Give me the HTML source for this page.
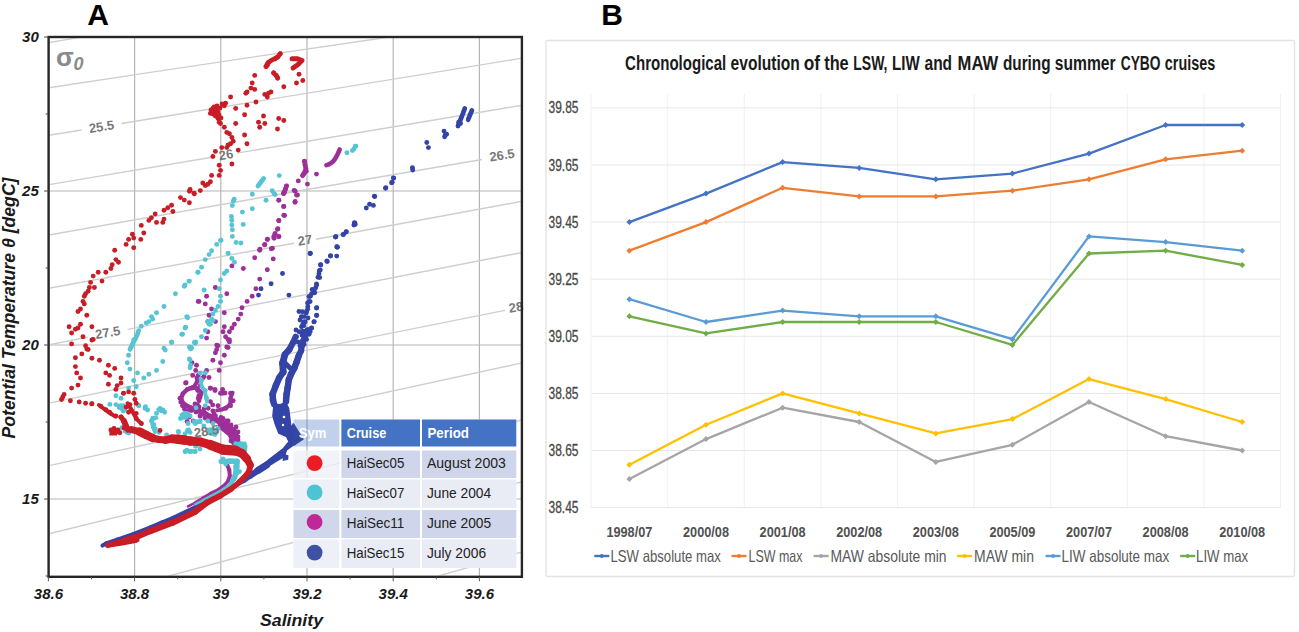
<!DOCTYPE html>
<html><head><meta charset="utf-8"><style>
html,body{margin:0;padding:0;background:#fff;width:1299px;height:632px;overflow:hidden}
svg{display:block}
text{font-family:"Liberation Sans",sans-serif}
</style></head><body>
<svg width="1299" height="632" viewBox="0 0 1299 632">
<rect width="1299" height="632" fill="#fff"/>
<defs><clipPath id="clipA"><rect x="49.8" y="38.2" width="471" height="537.4"/></clipPath></defs>
<line x1="134.6" y1="37.0" x2="134.6" y2="576.8" stroke="#b6b6b6" stroke-width="1.2"/>
<line x1="220.8" y1="37.0" x2="220.8" y2="576.8" stroke="#b6b6b6" stroke-width="1.2"/>
<line x1="307.0" y1="37.0" x2="307.0" y2="576.8" stroke="#b6b6b6" stroke-width="1.2"/>
<line x1="393.2" y1="37.0" x2="393.2" y2="576.8" stroke="#b6b6b6" stroke-width="1.2"/>
<line x1="479.4" y1="37.0" x2="479.4" y2="576.8" stroke="#b6b6b6" stroke-width="1.2"/>
<line x1="48.6" y1="191.0" x2="521.9" y2="191.0" stroke="#b6b6b6" stroke-width="1.2"/>
<line x1="48.6" y1="345.0" x2="521.9" y2="345.0" stroke="#b6b6b6" stroke-width="1.2"/>
<line x1="48.6" y1="499.0" x2="521.9" y2="499.0" stroke="#b6b6b6" stroke-width="1.2"/>
<g clip-path="url(#clipA)" stroke="#cecece" stroke-width="1.4" fill="none">
<path d="M48.6,42.6 Q285.2,2.6 521.9,-35.0"/>
<path d="M48.6,87.8 Q285.2,51.7 521.9,18.0"/>
<path d="M48.6,135.4 Q65.0,132.7 81.5,130.0"/>
<path d="M121.5,123.5 Q321.7,90.0 521.9,58.2"/>
<path d="M48.6,184.7 Q131.8,170.6 215.0,156.8"/>
<path d="M237.0,153.1 Q379.4,128.8 521.9,105.3"/>
<path d="M48.6,235.1 Q265.3,196.3 482.0,159.5"/>
<path d="M48.6,288.3 Q171.3,265.4 294.0,243.2"/>
<path d="M316.0,239.2 Q418.9,220.1 521.9,201.4"/>
<path d="M48.6,344.8 Q68.2,341.0 87.7,337.2"/>
<path d="M127.7,329.4 Q324.8,290.1 521.9,252.5"/>
<path d="M48.6,403.2 Q276.8,355.7 505.0,310.4"/>
<path d="M48.6,465.7 Q117.5,450.6 186.5,435.7"/>
<path d="M226.5,427.1 Q374.2,394.5 521.9,362.9"/>
<path d="M48.6,533.8 Q285.2,475.7 521.9,420.0"/>
<path d="M48.6,608.7 Q285.2,544.0 521.9,481.7"/>
<path d="M48.6,690.0 Q285.2,619.8 521.9,552.0"/>
</g>
<text x="56" y="66" font-family="Liberation Sans" font-weight="bold" font-size="26" fill="#8a8a8a">σ</text>
<text x="73.5" y="70" font-family="Liberation Sans" font-weight="bold" font-style="italic" font-size="18" fill="#8a8a8a">0</text>
<g clip-path="url(#clipA)">
<g fill="#3343a6"><circle cx="458.7" cy="122.3" r="2.45"/>
<circle cx="458.0" cy="126.0" r="2.45"/>
<circle cx="460.5" cy="123.5" r="2.45"/>
<circle cx="444.0" cy="131.1" r="2.45"/>
<circle cx="445.3" cy="135.0" r="2.45"/>
<circle cx="446.6" cy="134.2" r="2.45"/>
<circle cx="444.6" cy="136.7" r="2.45"/>
<circle cx="426.8" cy="142.5" r="2.45"/>
<circle cx="428.4" cy="147.6" r="2.45"/>
<circle cx="412.4" cy="167.8" r="2.45"/>
<circle cx="393.4" cy="178.0" r="2.45"/>
<circle cx="392.2" cy="182.3" r="2.45"/>
<circle cx="385.8" cy="187.6" r="2.45"/>
<circle cx="374.4" cy="196.2" r="2.45"/>
<circle cx="354.9" cy="223.1" r="2.45"/>
<circle cx="353.9" cy="225.0" r="2.45"/>
<circle cx="346.3" cy="231.6" r="2.45"/>
<circle cx="343.5" cy="234.5" r="2.45"/>
<circle cx="335.9" cy="236.8" r="2.45"/>
<circle cx="336.8" cy="246.8" r="2.45"/>
<circle cx="412.7" cy="170.0" r="2.45"/>
<circle cx="393.7" cy="178.1" r="2.45"/>
<circle cx="391.6" cy="182.7" r="2.45"/>
<circle cx="385.6" cy="188.2" r="2.45"/>
<circle cx="374.7" cy="196.6" r="2.45"/>
<circle cx="373.4" cy="205.4" r="2.45"/>
<circle cx="369.6" cy="204.2" r="2.45"/>
<circle cx="366.3" cy="208.0" r="2.45"/>
<circle cx="354.4" cy="222.7" r="2.45"/>
<circle cx="355.2" cy="224.4" r="2.45"/>
<circle cx="346.1" cy="232.0" r="2.45"/>
<circle cx="343.0" cy="234.6" r="2.45"/>
<circle cx="335.4" cy="237.1" r="2.45"/>
<circle cx="337.5" cy="247.2" r="2.45"/>
<circle cx="336.7" cy="256.1" r="2.45"/>
<circle cx="330.4" cy="256.1" r="2.45"/>
<circle cx="327.3" cy="261.6" r="2.45"/>
<circle cx="320.8" cy="264.9" r="2.45"/>
<circle cx="320.3" cy="270.0" r="2.45"/>
<circle cx="319.0" cy="273.8" r="2.45"/>
<circle cx="319.7" cy="277.6" r="2.45"/>
<circle cx="316.5" cy="283.9" r="2.45"/>
<circle cx="315.7" cy="287.7" r="2.45"/>
<circle cx="312.2" cy="289.5" r="2.45"/>
<circle cx="314.7" cy="292.8" r="2.45"/>
<circle cx="308.9" cy="296.6" r="2.45"/>
<circle cx="310.1" cy="301.6" r="2.45"/>
<circle cx="307.6" cy="302.9" r="2.45"/>
<circle cx="316.5" cy="308.0" r="2.45"/>
<circle cx="316.5" cy="315.6" r="2.45"/>
<circle cx="307.6" cy="309.2" r="2.45"/>
<circle cx="306.3" cy="313.0" r="2.45"/>
<circle cx="302.5" cy="311.8" r="2.45"/>
<circle cx="301.3" cy="316.8" r="2.45"/>
<circle cx="313.9" cy="321.9" r="2.45"/>
<circle cx="305.1" cy="321.9" r="2.45"/>
<circle cx="303.8" cy="325.7" r="2.45"/>
<circle cx="311.4" cy="328.2" r="2.45"/>
<circle cx="310.1" cy="253.5" r="2.45"/>
<circle cx="335.7" cy="236.8" r="2.45"/>
<circle cx="337.0" cy="247.0" r="2.45"/>
<circle cx="330.6" cy="255.8" r="2.45"/>
<circle cx="326.8" cy="260.9" r="2.45"/>
<circle cx="320.5" cy="264.7" r="2.45"/>
<circle cx="319.2" cy="271.0" r="2.45"/>
<circle cx="318.0" cy="277.3" r="2.45"/>
<circle cx="316.7" cy="284.9" r="2.45"/>
<circle cx="314.2" cy="290.0" r="2.45"/>
<circle cx="311.6" cy="293.8" r="2.45"/>
<circle cx="310.4" cy="296.3" r="2.45"/>
<circle cx="309.1" cy="301.4" r="2.45"/>
<circle cx="307.8" cy="306.5" r="2.45"/>
<circle cx="306.6" cy="311.5" r="2.45"/>
<circle cx="304.1" cy="316.6" r="2.45"/>
<circle cx="304.1" cy="321.6" r="2.45"/>
<circle cx="301.5" cy="326.7" r="2.45"/>
<circle cx="299.0" cy="331.8" r="2.45"/>
<circle cx="296.5" cy="336.8" r="2.45"/>
<circle cx="293.9" cy="341.9" r="2.45"/>
<circle cx="291.4" cy="345.7" r="2.45"/>
<circle cx="288.9" cy="349.5" r="2.45"/>
<circle cx="310.4" cy="253.3" r="2.45"/>
<circle cx="282.5" cy="273.5" r="2.45"/>
<circle cx="271.1" cy="283.7" r="2.45"/>
<circle cx="261.0" cy="288.7" r="2.45"/>
<circle cx="258.5" cy="295.1" r="2.45"/>
<circle cx="288.9" cy="295.1" r="2.45"/>
<circle cx="316.7" cy="307.7" r="2.45"/>
<circle cx="316.7" cy="315.3" r="2.45"/>
<circle cx="314.2" cy="321.6" r="2.45"/>
<circle cx="311.6" cy="328.0" r="2.45"/>
<circle cx="309.1" cy="334.3" r="2.45"/>
<circle cx="306.6" cy="339.4" r="2.45"/>
<circle cx="304.1" cy="344.4" r="2.45"/>
<circle cx="299.0" cy="311.5" r="2.45"/>
<circle cx="302.8" cy="324.2" r="2.45"/>
<circle cx="305.3" cy="331.8" r="2.45"/>
<circle cx="300.0" cy="320.0" r="2.45"/>
<circle cx="308.0" cy="318.0" r="2.45"/>
<circle cx="296.0" cy="330.0" r="2.45"/>
<circle cx="302.0" cy="335.0" r="2.45"/>
<circle cx="307.0" cy="330.0" r="2.45"/>
<circle cx="298.0" cy="342.0" r="2.45"/>
<circle cx="300.0" cy="346.0" r="2.45"/><polygon points="272.0,403.0 273.3,403.9 272.2,416.0 274.4,423.8 278.3,433.8 286.0,437.1 288.2,441.5 282.7,448.2 277.1,452.6 268.3,459.2 261.6,465.0 266.0,467.5 271.6,465.0 277.1,461.4 284.9,457.0 287.1,450.4 293.2,446.0 303.7,439.3 293.0,422.7 291.5,426.0 290.4,417.1 289.3,408.3 286.0,401.6 280.0,404.0"/>
<polygon points="283.5,454.0 288.5,455.2 288.2,459.8 282.5,461.0"/></g>
<g fill="none" stroke="#3343a6" stroke-linecap="round" stroke-linejoin="round"><polyline points="464.8,108.4 462.0,116.0 458.7,124.0" stroke-width="4.7"/>
<polyline points="471.9,110.4 470.0,115.0 468.1,119.7" stroke-width="4.7"/><line x1="295.5" y1="336.6" x2="293.2" y2="342.2" stroke-width="5.8"/>
<line x1="293.2" y1="342.2" x2="289.0" y2="349.9" stroke-width="6.2"/>
<line x1="289.0" y1="349.9" x2="285.0" y2="354.4" stroke-width="6.5"/>
<line x1="285.0" y1="354.4" x2="282.6" y2="363.2" stroke-width="6.8"/>
<line x1="282.6" y1="363.2" x2="283.2" y2="372.1" stroke-width="6.8"/>
<line x1="283.2" y1="372.1" x2="279.3" y2="377.6" stroke-width="6.5"/>
<line x1="279.3" y1="377.6" x2="275.9" y2="385.4" stroke-width="6.5"/>
<line x1="275.9" y1="385.4" x2="272.6" y2="394.2" stroke-width="6.5"/>
<line x1="272.6" y1="394.2" x2="273.0" y2="400.0" stroke-width="6.5"/>
<line x1="273.0" y1="400.0" x2="274.0" y2="404.0" stroke-width="6.5"/>
<line x1="308.2" y1="330.0" x2="304.8" y2="336.6" stroke-width="5.8"/>
<line x1="304.8" y1="336.6" x2="302.6" y2="342.2" stroke-width="6.0"/>
<line x1="302.6" y1="342.2" x2="301.0" y2="351.0" stroke-width="6.0"/>
<line x1="301.0" y1="351.0" x2="298.8" y2="355.5" stroke-width="6.2"/>
<line x1="298.8" y1="355.5" x2="296.6" y2="362.1" stroke-width="6.5"/>
<line x1="296.6" y1="362.1" x2="294.4" y2="367.7" stroke-width="6.5"/>
<line x1="294.4" y1="367.7" x2="291.0" y2="374.3" stroke-width="6.5"/>
<line x1="291.0" y1="374.3" x2="288.8" y2="379.8" stroke-width="6.5"/>
<line x1="288.8" y1="379.8" x2="287.7" y2="387.6" stroke-width="6.5"/>
<line x1="287.7" y1="387.6" x2="286.6" y2="394.2" stroke-width="6.5"/>
<line x1="286.6" y1="394.2" x2="286.0" y2="401.6" stroke-width="6.5"/>
<line x1="284.0" y1="362.0" x2="290.0" y2="368.0" stroke-width="5.0"/>
<line x1="266.6" y1="465.0" x2="258.0" y2="470.5" stroke-width="7.2"/>
<line x1="258.0" y1="470.5" x2="250.0" y2="476.0" stroke-width="6.0"/>
<line x1="250.0" y1="476.0" x2="244.0" y2="480.5" stroke-width="5.2"/>
<line x1="244.0" y1="480.5" x2="236.0" y2="485.5" stroke-width="4.0"/>
<line x1="236.0" y1="485.5" x2="228.0" y2="490.0" stroke-width="4.0"/>
<line x1="228.0" y1="490.0" x2="222.0" y2="492.5" stroke-width="4.0"/>
<line x1="222.0" y1="492.5" x2="215.0" y2="494.5" stroke-width="4.0"/>
<line x1="215.0" y1="494.5" x2="205.0" y2="500.5" stroke-width="4.0"/>
<line x1="205.0" y1="500.5" x2="194.7" y2="507.5" stroke-width="4.0"/>
<line x1="194.7" y1="507.5" x2="172.6" y2="518.0" stroke-width="4.0"/>
<line x1="172.6" y1="518.0" x2="161.5" y2="522.5" stroke-width="4.0"/>
<line x1="161.5" y1="522.5" x2="150.4" y2="527.4" stroke-width="4.0"/>
<line x1="150.4" y1="527.4" x2="133.8" y2="533.8" stroke-width="4.0"/>
<line x1="133.8" y1="533.8" x2="117.2" y2="539.6" stroke-width="4.0"/>
<line x1="117.2" y1="539.6" x2="106.0" y2="543.5" stroke-width="4.0"/>
<line x1="106.0" y1="543.5" x2="102.5" y2="545.5" stroke-width="4.1"/>
<line x1="302.0" y1="331.5" x2="310.0" y2="331.5" stroke-width="5.0"/></g>
<g fill="#fff"><circle cx="284" cy="417" r="1.3"/>
<circle cx="283" cy="425" r="1.2"/></g>
<g fill="#9d2f99"><circle cx="304.5" cy="161.3" r="2.45"/>
<circle cx="305.1" cy="165.1" r="2.45"/>
<circle cx="305.9" cy="168.9" r="2.45"/>
<circle cx="304.5" cy="172.7" r="2.45"/>
<circle cx="302.6" cy="175.6" r="2.45"/>
<circle cx="316.5" cy="174.1" r="2.45"/>
<circle cx="307.4" cy="184.1" r="2.45"/>
<circle cx="298.3" cy="180.9" r="2.45"/>
<circle cx="286.5" cy="186.0" r="2.45"/>
<circle cx="285.5" cy="188.9" r="2.45"/>
<circle cx="284.6" cy="191.7" r="2.45"/>
<circle cx="283.6" cy="193.6" r="2.45"/>
<circle cx="294.1" cy="190.4" r="2.45"/>
<circle cx="297.5" cy="195.0" r="2.45"/>
<circle cx="295.0" cy="202.2" r="2.45"/>
<circle cx="278.9" cy="200.3" r="2.45"/>
<circle cx="283.6" cy="206.4" r="2.45"/>
<circle cx="284.6" cy="215.5" r="2.45"/>
<circle cx="278.9" cy="220.8" r="2.45"/>
<circle cx="277.9" cy="228.8" r="2.45"/>
<circle cx="275.1" cy="233.5" r="2.45"/>
<circle cx="274.1" cy="238.3" r="2.45"/>
<circle cx="278.9" cy="236.4" r="2.45"/>
<circle cx="267.5" cy="239.2" r="2.45"/>
<circle cx="264.6" cy="244.9" r="2.45"/>
<circle cx="271.3" cy="248.7" r="2.45"/>
<circle cx="259.9" cy="249.3" r="2.45"/>
<circle cx="303.8" cy="173.8" r="2.45"/>
<circle cx="306.3" cy="171.3" r="2.45"/>
<circle cx="283.8" cy="192.5" r="2.45"/>
<circle cx="295.2" cy="191.3" r="2.45"/>
<circle cx="296.5" cy="195.1" r="2.45"/>
<circle cx="295.2" cy="201.4" r="2.45"/>
<circle cx="278.7" cy="200.1" r="2.45"/>
<circle cx="283.8" cy="206.5" r="2.45"/>
<circle cx="283.8" cy="215.3" r="2.45"/>
<circle cx="278.7" cy="220.4" r="2.45"/>
<circle cx="277.5" cy="229.2" r="2.45"/>
<circle cx="274.9" cy="234.3" r="2.45"/>
<circle cx="278.7" cy="236.8" r="2.45"/>
<circle cx="273.7" cy="236.8" r="2.45"/>
<circle cx="267.3" cy="239.4" r="2.45"/>
<circle cx="264.8" cy="244.4" r="2.45"/>
<circle cx="259.7" cy="250.3" r="2.45"/>
<circle cx="254.7" cy="257.8" r="2.45"/>
<circle cx="272.4" cy="248.2" r="2.45"/>
<circle cx="273.2" cy="258.9" r="2.45"/>
<circle cx="267.3" cy="269.7" r="2.45"/>
<circle cx="259.7" cy="279.1" r="2.45"/>
<circle cx="255.9" cy="288.7" r="2.45"/>
<circle cx="252.2" cy="296.3" r="2.45"/>
<circle cx="247.1" cy="301.4" r="2.45"/>
<circle cx="242.0" cy="307.7" r="2.45"/>
<circle cx="240.8" cy="314.1" r="2.45"/>
<circle cx="238.2" cy="319.1" r="2.45"/>
<circle cx="234.4" cy="324.2" r="2.45"/>
<circle cx="231.9" cy="328.0" r="2.45"/>
<circle cx="229.4" cy="331.8" r="2.45"/>
<circle cx="224.3" cy="326.7" r="2.45"/>
<circle cx="223.0" cy="331.8" r="2.45"/>
<circle cx="225.6" cy="336.8" r="2.45"/>
<circle cx="228.1" cy="339.4" r="2.45"/>
<circle cx="229.4" cy="341.9" r="2.45"/>
<circle cx="226.8" cy="347.0" r="2.45"/>
<circle cx="218.0" cy="345.7" r="2.45"/>
<circle cx="216.7" cy="349.5" r="2.45"/>
<circle cx="243.3" cy="268.5" r="2.45"/>
<circle cx="231.9" cy="265.9" r="2.45"/>
<circle cx="226.8" cy="293.8" r="2.45"/>
<circle cx="224.3" cy="312.8" r="2.45"/>
<circle cx="215.4" cy="321.6" r="2.45"/>
<circle cx="211.6" cy="309.0" r="2.45"/>
<circle cx="206.6" cy="296.3" r="2.45"/>
<circle cx="205.3" cy="303.9" r="2.45"/>
<circle cx="199.0" cy="301.4" r="2.45"/>
<circle cx="209.1" cy="315.3" r="2.45"/>
<circle cx="207.8" cy="321.6" r="2.45"/>
<circle cx="207.8" cy="331.8" r="2.45"/>
<circle cx="206.6" cy="338.1" r="2.45"/>
<circle cx="215.4" cy="287.5" r="2.45"/>
<circle cx="198.2" cy="301.4" r="2.45"/>
<circle cx="229.4" cy="340.0" r="2.45"/>
<circle cx="228.1" cy="347.6" r="2.45"/>
<circle cx="224.3" cy="355.2" r="2.45"/>
<circle cx="220.5" cy="362.8" r="2.45"/>
<circle cx="219.2" cy="370.4" r="2.45"/>
<circle cx="216.7" cy="345.1" r="2.45"/>
<circle cx="215.4" cy="352.7" r="2.45"/>
<circle cx="212.9" cy="360.3" r="2.45"/>
<circle cx="206.6" cy="370.4" r="2.45"/>
<circle cx="202.8" cy="378.0" r="2.45"/>
<circle cx="200.3" cy="385.6" r="2.45"/>
<circle cx="197.7" cy="390.6" r="2.45"/>
<circle cx="199.0" cy="395.5" r="2.45"/>
<circle cx="199.0" cy="400.8" r="2.45"/>
<circle cx="197.5" cy="405.0" r="2.45"/>
<circle cx="195.2" cy="408.4" r="2.45"/>
<circle cx="191.5" cy="410.5" r="2.45"/>
<circle cx="187.6" cy="410.9" r="2.45"/>
<circle cx="184.5" cy="409.0" r="2.45"/>
<circle cx="182.5" cy="405.8" r="2.45"/>
<circle cx="180.8" cy="402.0" r="2.45"/>
<circle cx="180.0" cy="398.2" r="2.45"/>
<circle cx="210.4" cy="388.1" r="2.45"/>
<circle cx="215.0" cy="390.5" r="2.45"/>
<circle cx="220.5" cy="393.2" r="2.45"/>
<circle cx="225.0" cy="393.0" r="2.45"/>
<circle cx="230.6" cy="393.2" r="2.45"/>
<circle cx="233.2" cy="400.8" r="2.45"/>
<circle cx="230.6" cy="405.8" r="2.45"/>
<circle cx="225.6" cy="408.4" r="2.45"/>
<circle cx="218.0" cy="405.8" r="2.45"/>
<circle cx="212.9" cy="410.9" r="2.45"/>
<circle cx="205.3" cy="413.4" r="2.45"/>
<circle cx="200.3" cy="415.9" r="2.45"/>
<circle cx="207.8" cy="418.5" r="2.45"/>
<circle cx="215.4" cy="415.9" r="2.45"/>
<circle cx="223.0" cy="418.5" r="2.45"/>
<circle cx="228.1" cy="421.0" r="2.45"/>
<circle cx="230.6" cy="426.1" r="2.45"/>
<circle cx="233.2" cy="431.1" r="2.45"/>
<circle cx="234.4" cy="436.2" r="2.45"/>
<circle cx="233.2" cy="441.3" r="2.45"/>
<circle cx="192.7" cy="375.4" r="2.45"/>
<circle cx="196.5" cy="365.3" r="2.45"/>
<circle cx="197.7" cy="378.0" r="2.45"/>
<circle cx="191.9" cy="362.8" r="2.45"/>
<circle cx="195.7" cy="370.4" r="2.45"/>
<circle cx="197.0" cy="378.0" r="2.45"/>
<circle cx="185.6" cy="383.0" r="2.45"/>
<circle cx="191.9" cy="388.1" r="2.45"/>
<circle cx="199.5" cy="398.2" r="2.45"/>
<circle cx="189.4" cy="415.9" r="2.45"/>
<circle cx="193.2" cy="421.0" r="2.45"/>
<circle cx="226.0" cy="428.0" r="2.45"/>
<circle cx="229.0" cy="433.0" r="2.45"/>
<circle cx="236.0" cy="432.0" r="2.45"/>
<circle cx="238.0" cy="437.0" r="2.45"/>
<circle cx="231.0" cy="437.0" r="2.45"/>
<circle cx="225.0" cy="424.0" r="2.45"/>
<circle cx="220.0" cy="425.0" r="2.45"/>
<circle cx="186.1" cy="382.8" r="2.45"/>
<circle cx="210.4" cy="388.3" r="2.45"/>
<circle cx="214.9" cy="389.4" r="2.45"/>
<circle cx="222.6" cy="389.4" r="2.45"/>
<circle cx="222.6" cy="393.3" r="2.45"/>
<circle cx="198.3" cy="398.3" r="2.45"/>
<circle cx="210.4" cy="401.6" r="2.45"/>
<circle cx="212.7" cy="404.9" r="2.45"/>
<circle cx="208.2" cy="408.2" r="2.45"/>
<circle cx="189.4" cy="417.1" r="2.45"/>
<circle cx="187.2" cy="421.5" r="2.45"/>
<circle cx="222.6" cy="419.3" r="2.45"/>
<circle cx="198.0" cy="376.0" r="2.45"/>
<circle cx="204.0" cy="376.5" r="2.45"/>
<circle cx="209.0" cy="377.5" r="2.45"/>
<circle cx="195.0" cy="404.0" r="2.45"/>
<circle cx="199.0" cy="407.0" r="2.45"/>
<circle cx="204.0" cy="409.0" r="2.45"/>
<circle cx="207.0" cy="415.5" r="2.45"/>
<circle cx="214.0" cy="414.0" r="2.45"/>
<circle cx="216.0" cy="420.0" r="2.45"/>
<circle cx="221.0" cy="417.5" r="2.45"/>
<circle cx="223.0" cy="425.0" r="2.45"/>
<circle cx="227.0" cy="421.0" r="2.45"/>
<circle cx="229.0" cy="427.5" r="2.45"/>
<circle cx="231.0" cy="425.0" r="2.45"/>
<circle cx="236.0" cy="427.0" r="2.45"/>
<circle cx="238.0" cy="432.0" r="2.45"/>
<circle cx="230.0" cy="435.0" r="2.45"/>
<circle cx="238.0" cy="440.0" r="2.45"/>
<circle cx="231.0" cy="441.0" r="2.45"/>
<circle cx="196.0" cy="412.0" r="2.45"/>
<circle cx="200.0" cy="416.0" r="2.45"/>
<circle cx="211.0" cy="421.0" r="2.45"/>
<circle cx="205.0" cy="418.0" r="2.45"/></g>
<g fill="none" stroke="#9d2f99" stroke-linecap="round" stroke-linejoin="round"><polyline points="339.7,149.5 337.8,153.7 335.9,157.5 334.0,160.4 332.1,162.3 329.2,164.2 326.4,165.1" stroke-width="4.6"/>
<polyline points="304.5,161.3 305.1,165.1 305.9,168.9 304.5,172.7 302.6,175.6" stroke-width="4.6"/>
<polyline points="286.5,186.0 285.5,188.9 284.6,191.7 283.6,193.6" stroke-width="4.6"/><line x1="198.3" y1="375.0" x2="197.1" y2="381.6" stroke-width="4.0"/>
<line x1="197.1" y1="381.6" x2="193.8" y2="387.2" stroke-width="4.1"/>
<line x1="193.8" y1="387.2" x2="187.2" y2="389.4" stroke-width="4.3"/>
<line x1="187.2" y1="389.4" x2="182.8" y2="393.8" stroke-width="4.4"/>
<line x1="182.8" y1="393.8" x2="181.1" y2="398.3" stroke-width="4.4"/>
<line x1="181.1" y1="398.3" x2="182.8" y2="402.7" stroke-width="4.4"/>
<line x1="182.8" y1="402.7" x2="187.2" y2="406.0" stroke-width="4.4"/>
<line x1="187.2" y1="406.0" x2="191.6" y2="408.2" stroke-width="4.7"/>
<line x1="187.2" y1="389.4" x2="192.7" y2="387.2" stroke-width="4.0"/>
<line x1="192.7" y1="387.2" x2="197.1" y2="388.3" stroke-width="4.0"/>
<line x1="197.1" y1="388.3" x2="201.6" y2="392.7" stroke-width="4.0"/>
<line x1="201.6" y1="392.7" x2="200.5" y2="397.1" stroke-width="3.9"/>
<line x1="191.6" y1="408.2" x2="202.7" y2="412.7" stroke-width="5.2"/>
<line x1="202.7" y1="412.7" x2="211.5" y2="417.1" stroke-width="5.5"/>
<line x1="211.5" y1="417.1" x2="219.3" y2="421.5" stroke-width="5.8"/>
<line x1="219.3" y1="421.5" x2="225.9" y2="424.8" stroke-width="6.0"/>
<line x1="225.9" y1="424.8" x2="232.6" y2="430.4" stroke-width="6.2"/>
<line x1="232.6" y1="430.4" x2="235.9" y2="437.0" stroke-width="6.8"/>
<line x1="235.9" y1="437.0" x2="234.8" y2="442.6" stroke-width="7.0"/>
<line x1="232.6" y1="392.7" x2="230.4" y2="398.3" stroke-width="4.0"/>
<line x1="230.4" y1="398.3" x2="230.4" y2="403.8" stroke-width="4.0"/>
<line x1="230.4" y1="403.8" x2="227.0" y2="407.1" stroke-width="4.0"/>
<line x1="227.0" y1="407.1" x2="222.6" y2="409.3" stroke-width="4.0"/>
<line x1="222.6" y1="409.3" x2="217.1" y2="410.4" stroke-width="4.0"/>
<line x1="227.5" y1="465.5" x2="229.3" y2="470.0" stroke-width="4.0"/>
<line x1="229.3" y1="470.0" x2="229.8" y2="476.0" stroke-width="4.0"/>
<line x1="229.8" y1="476.0" x2="228.0" y2="481.0" stroke-width="3.8"/>
<line x1="228.0" y1="481.0" x2="225.0" y2="484.5" stroke-width="3.4"/>
<line x1="225.0" y1="484.5" x2="218.7" y2="489.3" stroke-width="3.1"/>
<line x1="218.7" y1="489.3" x2="210.8" y2="493.2" stroke-width="3.0"/>
<line x1="210.8" y1="493.2" x2="202.9" y2="498.0" stroke-width="3.0"/>
<line x1="202.9" y1="498.0" x2="195.0" y2="502.8" stroke-width="2.9"/>
<line x1="195.0" y1="502.8" x2="188.0" y2="506.3" stroke-width="2.6"/>
<line x1="222.0" y1="428.0" x2="228.0" y2="433.0" stroke-width="4.8"/></g>
<g fill="#56c4d2"><circle cx="355.8" cy="146.1" r="2.45"/>
<circle cx="353.9" cy="149.0" r="2.45"/>
<circle cx="346.9" cy="152.8" r="2.45"/>
<circle cx="355.4" cy="146.3" r="2.45"/>
<circle cx="352.4" cy="150.6" r="2.45"/>
<circle cx="279.3" cy="175.6" r="2.45"/>
<circle cx="252.3" cy="194.2" r="2.45"/>
<circle cx="272.2" cy="190.8" r="2.45"/>
<circle cx="274.1" cy="193.6" r="2.45"/>
<circle cx="275.1" cy="194.6" r="2.45"/>
<circle cx="266.0" cy="200.3" r="2.45"/>
<circle cx="234.2" cy="199.3" r="2.45"/>
<circle cx="233.3" cy="201.2" r="2.45"/>
<circle cx="232.3" cy="205.6" r="2.45"/>
<circle cx="242.4" cy="212.1" r="2.45"/>
<circle cx="252.3" cy="208.8" r="2.45"/>
<circle cx="231.4" cy="216.4" r="2.45"/>
<circle cx="231.8" cy="220.2" r="2.45"/>
<circle cx="231.8" cy="225.0" r="2.45"/>
<circle cx="232.3" cy="229.7" r="2.45"/>
<circle cx="232.3" cy="236.4" r="2.45"/>
<circle cx="236.1" cy="242.5" r="2.45"/>
<circle cx="240.9" cy="243.0" r="2.45"/>
<circle cx="243.2" cy="224.4" r="2.45"/>
<circle cx="221.0" cy="240.2" r="2.45"/>
<circle cx="198.2" cy="272.3" r="2.45"/>
<circle cx="189.4" cy="281.1" r="2.45"/>
<circle cx="184.3" cy="286.2" r="2.45"/>
<circle cx="175.4" cy="293.8" r="2.45"/>
<circle cx="164.0" cy="306.5" r="2.45"/>
<circle cx="156.5" cy="312.8" r="2.45"/>
<circle cx="151.4" cy="316.6" r="2.45"/>
<circle cx="152.7" cy="319.1" r="2.45"/>
<circle cx="148.9" cy="321.6" r="2.45"/>
<circle cx="146.3" cy="322.9" r="2.45"/>
<circle cx="141.3" cy="326.2" r="2.45"/>
<circle cx="186.8" cy="316.6" r="2.45"/>
<circle cx="185.6" cy="327.3" r="2.45"/>
<circle cx="181.8" cy="334.3" r="2.45"/>
<circle cx="171.6" cy="341.9" r="2.45"/>
<circle cx="164.0" cy="348.2" r="2.45"/>
<circle cx="189.4" cy="347.0" r="2.45"/>
<circle cx="195.7" cy="341.9" r="2.45"/>
<circle cx="220.5" cy="240.6" r="2.45"/>
<circle cx="216.7" cy="244.4" r="2.45"/>
<circle cx="211.6" cy="250.8" r="2.45"/>
<circle cx="209.1" cy="254.6" r="2.45"/>
<circle cx="205.3" cy="259.6" r="2.45"/>
<circle cx="201.5" cy="267.2" r="2.45"/>
<circle cx="197.7" cy="272.3" r="2.45"/>
<circle cx="188.9" cy="281.1" r="2.45"/>
<circle cx="185.1" cy="284.9" r="2.45"/>
<circle cx="228.1" cy="253.3" r="2.45"/>
<circle cx="231.9" cy="258.4" r="2.45"/>
<circle cx="234.4" cy="262.2" r="2.45"/>
<circle cx="226.8" cy="271.0" r="2.45"/>
<circle cx="224.3" cy="273.5" r="2.45"/>
<circle cx="220.5" cy="279.9" r="2.45"/>
<circle cx="219.2" cy="288.7" r="2.45"/>
<circle cx="220.5" cy="296.3" r="2.45"/>
<circle cx="220.5" cy="301.4" r="2.45"/>
<circle cx="218.0" cy="306.5" r="2.45"/>
<circle cx="215.4" cy="310.3" r="2.45"/>
<circle cx="212.9" cy="314.1" r="2.45"/>
<circle cx="211.6" cy="319.1" r="2.45"/>
<circle cx="209.1" cy="324.2" r="2.45"/>
<circle cx="205.3" cy="330.5" r="2.45"/>
<circle cx="201.5" cy="336.8" r="2.45"/>
<circle cx="195.2" cy="343.2" r="2.45"/>
<circle cx="191.4" cy="348.2" r="2.45"/>
<circle cx="204.1" cy="290.0" r="2.45"/>
<circle cx="187.6" cy="317.8" r="2.45"/>
<circle cx="185.1" cy="328.0" r="2.45"/>
<circle cx="182.5" cy="334.3" r="2.45"/>
<circle cx="207.8" cy="321.6" r="2.45"/>
<circle cx="210.4" cy="324.2" r="2.45"/>
<circle cx="212.9" cy="320.4" r="2.45"/>
<circle cx="133.7" cy="340.0" r="2.45"/>
<circle cx="131.1" cy="347.6" r="2.45"/>
<circle cx="128.6" cy="355.2" r="2.45"/>
<circle cx="127.3" cy="362.8" r="2.45"/>
<circle cx="129.9" cy="369.1" r="2.45"/>
<circle cx="137.5" cy="372.9" r="2.45"/>
<circle cx="143.8" cy="378.0" r="2.45"/>
<circle cx="148.9" cy="374.2" r="2.45"/>
<circle cx="156.5" cy="370.4" r="2.45"/>
<circle cx="162.8" cy="361.5" r="2.45"/>
<circle cx="165.3" cy="350.1" r="2.45"/>
<circle cx="171.6" cy="342.5" r="2.45"/>
<circle cx="194.4" cy="342.5" r="2.45"/>
<circle cx="190.6" cy="348.9" r="2.45"/>
<circle cx="189.4" cy="359.0" r="2.45"/>
<circle cx="190.6" cy="365.3" r="2.45"/>
<circle cx="136.2" cy="386.8" r="2.45"/>
<circle cx="133.7" cy="380.5" r="2.45"/>
<circle cx="128.6" cy="388.1" r="2.45"/>
<circle cx="123.5" cy="393.2" r="2.45"/>
<circle cx="115.9" cy="395.7" r="2.45"/>
<circle cx="121.0" cy="398.2" r="2.45"/>
<circle cx="115.9" cy="404.6" r="2.45"/>
<circle cx="119.7" cy="407.1" r="2.45"/>
<circle cx="123.5" cy="405.8" r="2.45"/>
<circle cx="124.8" cy="409.6" r="2.45"/>
<circle cx="138.7" cy="405.8" r="2.45"/>
<circle cx="145.1" cy="408.4" r="2.45"/>
<circle cx="152.7" cy="418.5" r="2.45"/>
<circle cx="156.5" cy="413.4" r="2.45"/>
<circle cx="159.0" cy="409.6" r="2.45"/>
<circle cx="161.5" cy="410.9" r="2.45"/>
<circle cx="151.4" cy="421.0" r="2.45"/>
<circle cx="153.9" cy="424.8" r="2.45"/>
<circle cx="155.2" cy="428.6" r="2.45"/>
<circle cx="159.0" cy="432.4" r="2.45"/>
<circle cx="166.6" cy="434.9" r="2.45"/>
<circle cx="123.5" cy="427.3" r="2.45"/>
<circle cx="127.3" cy="432.4" r="2.45"/>
<circle cx="183.0" cy="415.9" r="2.45"/>
<circle cx="186.8" cy="413.4" r="2.45"/>
<circle cx="180.5" cy="418.5" r="2.45"/>
<circle cx="188.1" cy="423.5" r="2.45"/>
<circle cx="185.6" cy="451.4" r="2.45"/>
<circle cx="191.9" cy="451.4" r="2.45"/>
<circle cx="195.7" cy="446.3" r="2.45"/>
<circle cx="189.4" cy="443.8" r="2.45"/>
<circle cx="191.4" cy="347.6" r="2.45"/>
<circle cx="195.2" cy="342.5" r="2.45"/>
<circle cx="190.1" cy="360.3" r="2.45"/>
<circle cx="190.1" cy="367.8" r="2.45"/>
<circle cx="200.3" cy="372.9" r="2.45"/>
<circle cx="205.3" cy="372.9" r="2.45"/>
<circle cx="201.5" cy="380.5" r="2.45"/>
<circle cx="205.3" cy="390.6" r="2.45"/>
<circle cx="206.6" cy="398.2" r="2.45"/>
<circle cx="205.3" cy="405.8" r="2.45"/>
<circle cx="185.1" cy="413.4" r="2.45"/>
<circle cx="190.1" cy="415.9" r="2.45"/>
<circle cx="195.2" cy="423.5" r="2.45"/>
<circle cx="200.3" cy="421.0" r="2.45"/>
<circle cx="207.8" cy="421.0" r="2.45"/>
<circle cx="212.9" cy="423.5" r="2.45"/>
<circle cx="218.0" cy="428.6" r="2.45"/>
<circle cx="190.1" cy="432.4" r="2.45"/>
<circle cx="185.1" cy="433.7" r="2.45"/>
<circle cx="185.1" cy="451.4" r="2.45"/>
<circle cx="190.1" cy="451.4" r="2.45"/>
<circle cx="195.2" cy="451.4" r="2.45"/>
<circle cx="235.7" cy="443.8" r="2.45"/>
<circle cx="240.8" cy="443.8" r="2.45"/>
<circle cx="243.3" cy="446.3" r="2.45"/>
<circle cx="238.2" cy="451.4" r="2.45"/>
<circle cx="223.0" cy="459.0" r="2.45"/>
<circle cx="225.6" cy="464.1" r="2.45"/>
<circle cx="230.6" cy="461.5" r="2.45"/>
<circle cx="235.7" cy="466.6" r="2.45"/>
<circle cx="239.5" cy="471.6" r="2.45"/>
<circle cx="196.0" cy="407.7" r="2.45"/>
<circle cx="178.3" cy="431.5" r="2.45"/>
<circle cx="188.3" cy="430.4" r="2.45"/>
<circle cx="203.8" cy="426.0" r="2.45"/>
<circle cx="109.9" cy="404.4" r="2.45"/>
<circle cx="123.2" cy="411.0" r="2.45"/>
<circle cx="138.7" cy="405.5" r="2.45"/>
<circle cx="145.4" cy="406.6" r="2.45"/>
<circle cx="147.6" cy="410.0" r="2.45"/>
<circle cx="167.5" cy="437.7" r="2.45"/>
<circle cx="178.6" cy="432.1" r="2.45"/>
<circle cx="186.3" cy="451.0" r="2.45"/>
<circle cx="188.6" cy="430.0" r="2.45"/>
<circle cx="187.5" cy="430.7" r="2.45"/>
<circle cx="190.0" cy="451.6" r="2.45"/>
<circle cx="195.0" cy="451.6" r="2.45"/>
<circle cx="200.0" cy="449.0" r="2.45"/>
<circle cx="160.0" cy="408.5" r="2.45"/>
<circle cx="163.0" cy="410.0" r="2.45"/>
<circle cx="122.0" cy="427.7" r="2.45"/>
<circle cx="125.0" cy="431.0" r="2.45"/>
<circle cx="128.8" cy="433.0" r="2.45"/>
<circle cx="186.9" cy="450.2" r="2.45"/>
<circle cx="164.7" cy="412.2" r="2.45"/>
<circle cx="161.0" cy="410.0" r="2.45"/><polygon points="235.6,442.0 246.0,441.5 247.5,446.0 247.0,451.6 240.0,451.0 235.6,449.0"/>
<polygon points="179.4,414.0 183.0,411.5 189.4,413.0 188.0,419.3 181.0,419.3"/>
<polygon points="116.6,404.0 122.0,403.3 124.3,408.0 121.0,411.0 117.0,409.0"/>
<polygon points="156.4,408.5 163.0,407.8 165.3,410.5 160.0,412.2 157.0,411.5"/>
<polygon points="151.0,416.0 157.0,415.5 158.7,419.0 153.0,421.0"/>
<polygon points="191.6,419.3 200.0,419.5 202.7,423.5 195.0,424.8 192.0,423.0"/>
<polygon points="206.0,428.0 214.0,427.0 219.3,432.0 216.0,437.0 208.0,435.0"/>
<polygon points="180.8,415.0 186.0,414.4 187.5,419.0 182.0,420.0"/></g>
<g fill="none" stroke="#56c4d2" stroke-linecap="round" stroke-linejoin="round"><polyline points="263.7,178.4 261.0,182.0 258.0,186.0" stroke-width="4.7"/>
<polyline points="138.7,330.5 137.5,334.3 135.7,338.1 133.7,341.9 131.6,345.7 129.9,349.5" stroke-width="4.6"/><line x1="200.5" y1="378.3" x2="201.6" y2="386.1" stroke-width="3.8"/>
<line x1="201.6" y1="386.1" x2="204.9" y2="391.6" stroke-width="3.8"/>
<line x1="204.9" y1="391.6" x2="206.0" y2="397.1" stroke-width="3.8"/>
<line x1="206.0" y1="397.1" x2="207.1" y2="401.6" stroke-width="3.8"/>
<line x1="152.0" y1="422.0" x2="153.0" y2="427.0" stroke-width="4.0"/>
<line x1="153.0" y1="427.0" x2="155.0" y2="432.0" stroke-width="4.0"/>
<line x1="221.0" y1="461.5" x2="230.0" y2="461.0" stroke-width="5.0"/>
<line x1="230.0" y1="461.0" x2="237.0" y2="461.5" stroke-width="5.5"/>
<line x1="237.0" y1="461.5" x2="236.5" y2="467.0" stroke-width="5.8"/>
<line x1="236.5" y1="467.0" x2="236.0" y2="473.0" stroke-width="6.0"/>
<line x1="236.0" y1="473.0" x2="234.0" y2="478.5" stroke-width="5.5"/>
<line x1="234.0" y1="478.5" x2="230.5" y2="484.0" stroke-width="4.5"/>
<line x1="230.5" y1="484.0" x2="225.0" y2="488.5" stroke-width="3.5"/>
<line x1="225.0" y1="488.5" x2="218.7" y2="492.2" stroke-width="3.0"/>
<line x1="218.7" y1="492.2" x2="210.8" y2="496.3" stroke-width="3.0"/>
<line x1="210.8" y1="496.3" x2="203.0" y2="500.3" stroke-width="2.8"/>
<line x1="203.0" y1="500.3" x2="195.0" y2="504.3" stroke-width="2.5"/></g>
<g fill="#c91d26"><circle cx="280.0" cy="53.9" r="2.45"/>
<circle cx="277.5" cy="57.2" r="2.45"/>
<circle cx="275.0" cy="59.0" r="2.45"/>
<circle cx="268.6" cy="62.8" r="2.45"/>
<circle cx="267.3" cy="65.3" r="2.45"/>
<circle cx="266.0" cy="66.6" r="2.45"/>
<circle cx="273.7" cy="72.9" r="2.45"/>
<circle cx="276.2" cy="75.4" r="2.45"/>
<circle cx="277.5" cy="78.0" r="2.45"/>
<circle cx="299.0" cy="74.2" r="2.45"/>
<circle cx="302.8" cy="80.5" r="2.45"/>
<circle cx="296.5" cy="83.0" r="2.45"/>
<circle cx="254.7" cy="75.4" r="2.45"/>
<circle cx="283.8" cy="86.8" r="2.45"/>
<circle cx="252.2" cy="83.0" r="2.45"/>
<circle cx="250.9" cy="88.1" r="2.45"/>
<circle cx="254.7" cy="89.4" r="2.45"/>
<circle cx="247.1" cy="91.9" r="2.45"/>
<circle cx="245.8" cy="93.2" r="2.45"/>
<circle cx="264.8" cy="94.4" r="2.45"/>
<circle cx="267.3" cy="97.0" r="2.45"/>
<circle cx="271.0" cy="91.9" r="2.45"/>
<circle cx="268.6" cy="93.2" r="2.45"/>
<circle cx="230.6" cy="97.0" r="2.45"/>
<circle cx="256.0" cy="102.0" r="2.45"/>
<circle cx="247.0" cy="105.3" r="2.45"/>
<circle cx="225.6" cy="103.3" r="2.45"/>
<circle cx="224.3" cy="105.8" r="2.45"/>
<circle cx="212.9" cy="108.4" r="2.45"/>
<circle cx="210.4" cy="113.4" r="2.45"/>
<circle cx="215.4" cy="116.0" r="2.45"/>
<circle cx="218.0" cy="118.5" r="2.45"/>
<circle cx="219.2" cy="122.3" r="2.45"/>
<circle cx="220.5" cy="123.5" r="2.45"/>
<circle cx="235.7" cy="108.4" r="2.45"/>
<circle cx="244.6" cy="114.7" r="2.45"/>
<circle cx="263.5" cy="116.0" r="2.45"/>
<circle cx="258.5" cy="122.3" r="2.45"/>
<circle cx="264.8" cy="123.5" r="2.45"/>
<circle cx="259.7" cy="127.3" r="2.45"/>
<circle cx="278.7" cy="118.5" r="2.45"/>
<circle cx="283.8" cy="120.5" r="2.45"/>
<circle cx="277.5" cy="129.0" r="2.45"/>
<circle cx="235.7" cy="123.5" r="2.45"/>
<circle cx="224.3" cy="127.3" r="2.45"/>
<circle cx="226.8" cy="132.4" r="2.45"/>
<circle cx="229.4" cy="133.7" r="2.45"/>
<circle cx="231.9" cy="137.5" r="2.45"/>
<circle cx="233.2" cy="141.3" r="2.45"/>
<circle cx="230.6" cy="143.8" r="2.45"/>
<circle cx="228.1" cy="145.0" r="2.45"/>
<circle cx="226.8" cy="147.6" r="2.45"/>
<circle cx="244.6" cy="135.0" r="2.45"/>
<circle cx="247.0" cy="143.8" r="2.45"/>
<circle cx="238.2" cy="150.1" r="2.45"/>
<circle cx="215.4" cy="151.4" r="2.45"/>
<circle cx="212.9" cy="156.5" r="2.45"/>
<circle cx="221.8" cy="147.6" r="2.45"/>
<circle cx="231.9" cy="164.0" r="2.45"/>
<circle cx="219.2" cy="165.3" r="2.45"/>
<circle cx="220.5" cy="170.4" r="2.45"/>
<circle cx="219.2" cy="175.4" r="2.45"/>
<circle cx="211.6" cy="175.4" r="2.45"/>
<circle cx="210.4" cy="181.8" r="2.45"/>
<circle cx="207.8" cy="184.3" r="2.45"/>
<circle cx="205.3" cy="185.6" r="2.45"/>
<circle cx="202.8" cy="183.0" r="2.45"/>
<circle cx="200.3" cy="190.6" r="2.45"/>
<circle cx="193.9" cy="193.2" r="2.45"/>
<circle cx="190.1" cy="189.4" r="2.45"/>
<circle cx="214.0" cy="107.0" r="2.45"/>
<circle cx="216.0" cy="110.0" r="2.45"/>
<circle cx="218.0" cy="112.0" r="2.45"/>
<circle cx="213.0" cy="111.0" r="2.45"/>
<circle cx="217.0" cy="106.0" r="2.45"/>
<circle cx="220.0" cy="108.0" r="2.45"/>
<circle cx="222.0" cy="104.0" r="2.45"/>
<circle cx="215.0" cy="113.0" r="2.45"/>
<circle cx="219.0" cy="115.0" r="2.45"/>
<circle cx="221.0" cy="118.0" r="2.45"/>
<circle cx="211.0" cy="110.0" r="2.45"/>
<circle cx="213.0" cy="114.0" r="2.45"/>
<circle cx="189.4" cy="191.3" r="2.45"/>
<circle cx="194.4" cy="193.8" r="2.45"/>
<circle cx="180.5" cy="197.6" r="2.45"/>
<circle cx="184.3" cy="200.1" r="2.45"/>
<circle cx="189.4" cy="202.7" r="2.45"/>
<circle cx="171.6" cy="205.2" r="2.45"/>
<circle cx="167.8" cy="207.7" r="2.45"/>
<circle cx="164.0" cy="210.3" r="2.45"/>
<circle cx="172.9" cy="211.5" r="2.45"/>
<circle cx="155.2" cy="214.0" r="2.45"/>
<circle cx="151.4" cy="217.8" r="2.45"/>
<circle cx="148.9" cy="220.4" r="2.45"/>
<circle cx="156.5" cy="222.4" r="2.45"/>
<circle cx="164.0" cy="219.1" r="2.45"/>
<circle cx="162.8" cy="222.4" r="2.45"/>
<circle cx="141.3" cy="225.4" r="2.45"/>
<circle cx="143.8" cy="233.0" r="2.45"/>
<circle cx="140.8" cy="239.4" r="2.45"/>
<circle cx="132.4" cy="234.3" r="2.45"/>
<circle cx="133.7" cy="238.1" r="2.45"/>
<circle cx="128.6" cy="239.4" r="2.45"/>
<circle cx="126.1" cy="244.4" r="2.45"/>
<circle cx="133.7" cy="247.7" r="2.45"/>
<circle cx="114.7" cy="250.3" r="2.45"/>
<circle cx="115.9" cy="259.6" r="2.45"/>
<circle cx="118.5" cy="262.2" r="2.45"/>
<circle cx="112.2" cy="264.7" r="2.45"/>
<circle cx="110.9" cy="268.5" r="2.45"/>
<circle cx="105.8" cy="272.3" r="2.45"/>
<circle cx="98.2" cy="272.3" r="2.45"/>
<circle cx="93.2" cy="276.1" r="2.45"/>
<circle cx="102.0" cy="281.1" r="2.45"/>
<circle cx="90.6" cy="282.4" r="2.45"/>
<circle cx="89.4" cy="287.5" r="2.45"/>
<circle cx="94.4" cy="287.5" r="2.45"/>
<circle cx="85.6" cy="293.8" r="2.45"/>
<circle cx="84.3" cy="296.3" r="2.45"/>
<circle cx="88.1" cy="291.3" r="2.45"/>
<circle cx="83.0" cy="301.4" r="2.45"/>
<circle cx="84.3" cy="303.9" r="2.45"/>
<circle cx="80.5" cy="309.0" r="2.45"/>
<circle cx="78.0" cy="311.5" r="2.45"/>
<circle cx="86.8" cy="315.3" r="2.45"/>
<circle cx="80.5" cy="324.2" r="2.45"/>
<circle cx="78.0" cy="328.0" r="2.45"/>
<circle cx="75.4" cy="329.2" r="2.45"/>
<circle cx="69.1" cy="326.7" r="2.45"/>
<circle cx="71.6" cy="333.0" r="2.45"/>
<circle cx="91.9" cy="326.7" r="2.45"/>
<circle cx="93.2" cy="339.4" r="2.45"/>
<circle cx="83.0" cy="336.8" r="2.45"/>
<circle cx="71.6" cy="343.9" r="2.45"/>
<circle cx="85.6" cy="345.7" r="2.45"/>
<circle cx="88.1" cy="349.5" r="2.45"/>
<circle cx="86.8" cy="348.9" r="2.45"/>
<circle cx="91.9" cy="340.0" r="2.45"/>
<circle cx="75.4" cy="357.7" r="2.45"/>
<circle cx="81.8" cy="353.9" r="2.45"/>
<circle cx="91.9" cy="358.2" r="2.45"/>
<circle cx="99.5" cy="360.3" r="2.45"/>
<circle cx="75.4" cy="366.6" r="2.45"/>
<circle cx="76.7" cy="372.9" r="2.45"/>
<circle cx="80.5" cy="378.0" r="2.45"/>
<circle cx="78.0" cy="385.1" r="2.45"/>
<circle cx="71.6" cy="388.1" r="2.45"/>
<circle cx="64.1" cy="394.4" r="2.45"/>
<circle cx="61.5" cy="399.5" r="2.45"/>
<circle cx="62.8" cy="397.0" r="2.45"/>
<circle cx="70.4" cy="400.8" r="2.45"/>
<circle cx="79.2" cy="402.0" r="2.45"/>
<circle cx="85.6" cy="403.3" r="2.45"/>
<circle cx="91.9" cy="403.8" r="2.45"/>
<circle cx="100.8" cy="406.3" r="2.45"/>
<circle cx="105.8" cy="409.6" r="2.45"/>
<circle cx="109.6" cy="412.2" r="2.45"/>
<circle cx="115.9" cy="415.9" r="2.45"/>
<circle cx="121.0" cy="417.2" r="2.45"/>
<circle cx="123.5" cy="421.0" r="2.45"/>
<circle cx="108.4" cy="365.3" r="2.45"/>
<circle cx="114.7" cy="368.4" r="2.45"/>
<circle cx="105.8" cy="372.9" r="2.45"/>
<circle cx="109.6" cy="375.4" r="2.45"/>
<circle cx="108.4" cy="384.3" r="2.45"/>
<circle cx="115.9" cy="389.4" r="2.45"/>
<circle cx="121.0" cy="378.0" r="2.45"/>
<circle cx="121.0" cy="383.0" r="2.45"/>
<circle cx="117.2" cy="385.6" r="2.45"/>
<circle cx="123.5" cy="393.2" r="2.45"/>
<circle cx="128.6" cy="391.9" r="2.45"/>
<circle cx="133.7" cy="393.2" r="2.45"/>
<circle cx="134.9" cy="399.5" r="2.45"/>
<circle cx="136.2" cy="403.3" r="2.45"/>
<circle cx="129.9" cy="404.6" r="2.45"/>
<circle cx="126.1" cy="407.1" r="2.45"/>
<circle cx="131.1" cy="409.6" r="2.45"/>
<circle cx="128.6" cy="412.2" r="2.45"/>
<circle cx="136.2" cy="413.4" r="2.45"/>
<circle cx="136.2" cy="418.5" r="2.45"/>
<circle cx="141.3" cy="423.5" r="2.45"/>
<circle cx="160.0" cy="430.4" r="2.45"/>
<circle cx="110.9" cy="429.9" r="2.45"/>
<circle cx="113.0" cy="431.0" r="2.45"/>
<circle cx="116.0" cy="432.4" r="2.45"/>
<circle cx="114.0" cy="428.5" r="2.45"/>
<circle cx="118.0" cy="430.0" r="2.45"/>
<circle cx="91.7" cy="403.9" r="2.45"/>
<circle cx="119.9" cy="432.7" r="2.45"/><polygon points="106.0,543.0 117.0,540.0 133.8,534.3 139.5,538.5 139.5,541.0 137.0,542.8 122.7,545.6 108.0,547.8 105.0,546.0"/>
<polygon points="109.4,428.0 116.6,427.7 117.0,435.4 109.4,435.4"/></g>
<g fill="none" stroke="#c91d26" stroke-linecap="round" stroke-linejoin="round"><polyline points="266.0,66.6 268.0,62.5 272.0,60.0 277.5,57.2 280.5,53.5" stroke-width="4.7"/>
<polyline points="292.0,58.8 297.0,58.6 302.0,60.6 298.0,64.5 293.0,68.0" stroke-width="4.9"/>
<polyline points="273.5,72.8 276.5,75.8 277.8,78.2" stroke-width="4.7"/><line x1="124.5" y1="427.7" x2="131.6" y2="429.6" stroke-width="5.5"/>
<line x1="131.6" y1="429.6" x2="139.6" y2="431.6" stroke-width="7.0"/>
<line x1="139.6" y1="431.6" x2="146.3" y2="435.0" stroke-width="8.5"/>
<line x1="146.3" y1="435.0" x2="152.7" y2="438.0" stroke-width="8.2"/>
<line x1="152.7" y1="438.0" x2="159.0" y2="439.4" stroke-width="7.2"/>
<line x1="159.0" y1="439.4" x2="166.0" y2="440.0" stroke-width="7.0"/>
<line x1="166.0" y1="440.0" x2="172.0" y2="438.8" stroke-width="7.8"/>
<line x1="172.0" y1="438.8" x2="178.0" y2="439.3" stroke-width="9.0"/>
<line x1="178.0" y1="439.3" x2="184.3" y2="440.0" stroke-width="9.5"/>
<line x1="184.3" y1="440.0" x2="190.6" y2="441.0" stroke-width="9.2"/>
<line x1="190.6" y1="441.0" x2="200.0" y2="441.8" stroke-width="8.8"/>
<line x1="200.0" y1="441.8" x2="210.3" y2="444.8" stroke-width="8.8"/>
<line x1="210.3" y1="444.8" x2="223.0" y2="449.7" stroke-width="10.0"/>
<line x1="223.0" y1="449.7" x2="235.6" y2="450.6" stroke-width="10.2"/>
<line x1="235.6" y1="450.6" x2="242.0" y2="453.4" stroke-width="9.2"/>
<line x1="242.0" y1="453.4" x2="247.0" y2="459.0" stroke-width="8.5"/>
<line x1="247.0" y1="459.0" x2="250.3" y2="465.0" stroke-width="7.2"/>
<line x1="250.3" y1="465.0" x2="249.3" y2="471.0" stroke-width="6.0"/>
<line x1="249.3" y1="471.0" x2="245.2" y2="476.2" stroke-width="5.5"/>
<line x1="245.2" y1="476.2" x2="239.4" y2="482.0" stroke-width="5.5"/>
<line x1="239.4" y1="482.0" x2="231.0" y2="489.0" stroke-width="5.5"/>
<line x1="231.0" y1="489.0" x2="220.0" y2="495.9" stroke-width="5.8"/>
<line x1="220.0" y1="495.9" x2="207.0" y2="502.5" stroke-width="6.0"/>
<line x1="207.0" y1="502.5" x2="194.7" y2="512.0" stroke-width="6.2"/>
<line x1="194.7" y1="512.0" x2="172.6" y2="522.7" stroke-width="6.2"/>
<line x1="172.6" y1="522.7" x2="150.4" y2="531.0" stroke-width="6.2"/>
<line x1="150.4" y1="531.0" x2="137.5" y2="536.5" stroke-width="6.2"/>
<line x1="137.5" y1="536.5" x2="122.0" y2="541.8" stroke-width="5.8"/>
<line x1="122.0" y1="541.8" x2="107.5" y2="545.4" stroke-width="5.0"/>
<line x1="121.0" y1="417.0" x2="124.0" y2="421.0" stroke-width="5.2"/>
<line x1="124.0" y1="421.0" x2="126.0" y2="426.0" stroke-width="6.0"/>
<line x1="126.0" y1="426.0" x2="128.0" y2="430.0" stroke-width="5.5"/>
<line x1="127.6" y1="403.3" x2="132.1" y2="411.0" stroke-width="4.0"/>
<line x1="132.1" y1="411.0" x2="136.5" y2="418.8" stroke-width="4.0"/>
<line x1="136.5" y1="418.8" x2="141.5" y2="423.8" stroke-width="4.0"/>
<line x1="98.9" y1="405.0" x2="105.0" y2="409.5" stroke-width="4.0"/>
<line x1="105.0" y1="409.5" x2="111.0" y2="413.8" stroke-width="4.0"/>
<line x1="111.0" y1="413.8" x2="115.5" y2="416.6" stroke-width="4.0"/></g>
</g>
<text x="101.5" y="131.1" text-anchor="middle" font-family="Liberation Sans" font-weight="bold" font-size="13" fill="#787878" transform="rotate(-9 101.5 126.5)">25.5</text>
<text x="226.0" y="159.1" text-anchor="middle" font-family="Liberation Sans" font-weight="bold" font-size="13" fill="#787878" transform="rotate(-9 226.0 154.5)">26</text>
<text x="502.0" y="159.6" text-anchor="middle" font-family="Liberation Sans" font-weight="bold" font-size="13" fill="#787878" transform="rotate(-9 502.0 155.0)">26.5</text>
<text x="305.0" y="244.6" text-anchor="middle" font-family="Liberation Sans" font-weight="bold" font-size="13" fill="#787878" transform="rotate(-9 305.0 240.0)">27</text>
<text x="107.7" y="337.0" text-anchor="middle" font-family="Liberation Sans" font-weight="bold" font-size="13" fill="#787878" transform="rotate(-9 107.7 332.4)">27.5</text>
<text x="516.0" y="311.6" text-anchor="middle" font-family="Liberation Sans" font-weight="bold" font-size="13" fill="#787878" transform="rotate(-9 516.0 307.0)">28</text>
<text x="206.5" y="435.6" text-anchor="middle" font-family="Liberation Sans" font-weight="bold" font-size="13" fill="#787878" transform="rotate(-9 206.5 431.0)">28.5</text>
<rect x="339.3" y="419.5" width="177.0" height="148.5" fill="#fff"/>
<rect x="293.5" y="478.0" width="45.8" height="90.0" fill="#fff"/>
<rect x="293.5" y="419.5" width="45.8" height="27.0" fill="#4472c4" fill-opacity="0.33"/>
<rect x="341.4" y="419.5" width="78.6" height="27.0" fill="#4472c4"/>
<rect x="422.0" y="419.5" width="94.3" height="27.0" fill="#4472c4"/>
<rect x="293.5" y="450.5" width="45.8" height="27.5" fill="#edf0f7" fill-opacity="0.8"/>
<rect x="341.4" y="450.5" width="78.6" height="27.5" fill="#cfd5ea"/>
<rect x="422.0" y="450.5" width="94.3" height="27.5" fill="#cfd5ea"/>
<rect x="293.5" y="479.5" width="45.8" height="28.5" fill="#eef0f7" fill-opacity="1"/>
<rect x="341.4" y="479.5" width="78.6" height="28.5" fill="#e9ebf5"/>
<rect x="422.0" y="479.5" width="94.3" height="28.5" fill="#e9ebf5"/>
<rect x="293.5" y="510.0" width="45.8" height="28.0" fill="#d1d7eb" fill-opacity="1"/>
<rect x="341.4" y="510.0" width="78.6" height="28.0" fill="#cfd5ea"/>
<rect x="422.0" y="510.0" width="94.3" height="28.0" fill="#cfd5ea"/>
<rect x="293.5" y="539.5" width="45.8" height="28.5" fill="#eef0f7" fill-opacity="1"/>
<rect x="341.4" y="539.5" width="78.6" height="28.5" fill="#e9ebf5"/>
<rect x="422.0" y="539.5" width="94.3" height="28.5" fill="#e9ebf5"/>
<polygon fill="#3547a0" points="293.5,422.7 303.7,439.3 293.5,446.2"/>
<text x="298.8" y="437.7" font-family="Liberation Sans" font-weight="bold" font-size="14" fill="#fff" textLength="27.5" lengthAdjust="spacingAndGlyphs">Sym</text>
<text x="346.7" y="437.7" font-family="Liberation Sans" font-weight="bold" font-size="14" fill="#fff" textLength="39.6" lengthAdjust="spacingAndGlyphs">Cruise</text>
<text x="427.5" y="437.7" font-family="Liberation Sans" font-weight="bold" font-size="14" fill="#fff" textLength="41.4" lengthAdjust="spacingAndGlyphs">Period</text>
<circle cx="314.6" cy="463.2" r="7.9" fill="#ed1c24"/>
<text x="346.7" y="467.9" font-family="Liberation Sans" font-size="14" fill="#222" textLength="57.6" lengthAdjust="spacingAndGlyphs">HaiSec05</text>
<text x="426.9" y="467.9" font-family="Liberation Sans" font-size="14" fill="#222" textLength="79" lengthAdjust="spacingAndGlyphs">August 2003</text>
<circle cx="314.6" cy="492.4" r="7.9" fill="#4cc4d4"/>
<text x="346.7" y="497.6" font-family="Liberation Sans" font-size="14" fill="#222" textLength="57.6" lengthAdjust="spacingAndGlyphs">HaiSec07</text>
<text x="426.9" y="497.6" font-family="Liberation Sans" font-size="14" fill="#222" textLength="64.3" lengthAdjust="spacingAndGlyphs">June 2004</text>
<circle cx="314.6" cy="522.0" r="7.9" fill="#bf2898"/>
<text x="346.7" y="527.6" font-family="Liberation Sans" font-size="14" fill="#222" textLength="57.6" lengthAdjust="spacingAndGlyphs">HaiSec11</text>
<text x="426.9" y="527.6" font-family="Liberation Sans" font-size="14" fill="#222" textLength="64.3" lengthAdjust="spacingAndGlyphs">June 2005</text>
<circle cx="314.6" cy="552.6" r="7.9" fill="#3f51a5"/>
<text x="346.7" y="557.8" font-family="Liberation Sans" font-size="14" fill="#222" textLength="57.6" lengthAdjust="spacingAndGlyphs">HaiSec15</text>
<text x="426.9" y="557.8" font-family="Liberation Sans" font-size="14" fill="#222" textLength="59.2" lengthAdjust="spacingAndGlyphs">July 2006</text>
<rect x="48.6" y="37.0" width="473.3" height="539.8" fill="none" stroke="#262626" stroke-width="2.4"/>
<line x1="44.1" y1="37.0" x2="48.6" y2="37.0" stroke="#444" stroke-width="1"/>
<line x1="45.6" y1="114.0" x2="48.6" y2="114.0" stroke="#444" stroke-width="1"/>
<line x1="44.1" y1="191.0" x2="48.6" y2="191.0" stroke="#444" stroke-width="1"/>
<line x1="45.6" y1="268.0" x2="48.6" y2="268.0" stroke="#444" stroke-width="1"/>
<line x1="44.1" y1="345.0" x2="48.6" y2="345.0" stroke="#444" stroke-width="1"/>
<line x1="45.6" y1="422.0" x2="48.6" y2="422.0" stroke="#444" stroke-width="1"/>
<line x1="44.1" y1="499.0" x2="48.6" y2="499.0" stroke="#444" stroke-width="1"/>
<line x1="45.6" y1="576.0" x2="48.6" y2="576.0" stroke="#444" stroke-width="1"/>
<text x="38.8" y="42.4" text-anchor="end" font-family="Liberation Sans" font-weight="bold" font-style="italic" font-size="15" fill="#1a1a1a">30</text>
<text x="38.8" y="196.4" text-anchor="end" font-family="Liberation Sans" font-weight="bold" font-style="italic" font-size="15" fill="#1a1a1a">25</text>
<text x="38.8" y="350.4" text-anchor="end" font-family="Liberation Sans" font-weight="bold" font-style="italic" font-size="15" fill="#1a1a1a">20</text>
<text x="38.8" y="504.4" text-anchor="end" font-family="Liberation Sans" font-weight="bold" font-style="italic" font-size="15" fill="#1a1a1a">15</text>
<line x1="48.4" y1="576.8" x2="48.4" y2="581.3" stroke="#555" stroke-width="1"/>
<line x1="91.5" y1="576.8" x2="91.5" y2="579.3" stroke="#555" stroke-width="1"/>
<line x1="134.6" y1="576.8" x2="134.6" y2="581.3" stroke="#555" stroke-width="1"/>
<line x1="177.7" y1="576.8" x2="177.7" y2="579.3" stroke="#555" stroke-width="1"/>
<line x1="220.8" y1="576.8" x2="220.8" y2="581.3" stroke="#555" stroke-width="1"/>
<line x1="263.9" y1="576.8" x2="263.9" y2="579.3" stroke="#555" stroke-width="1"/>
<line x1="307.0" y1="576.8" x2="307.0" y2="581.3" stroke="#555" stroke-width="1"/>
<line x1="350.1" y1="576.8" x2="350.1" y2="579.3" stroke="#555" stroke-width="1"/>
<line x1="393.2" y1="576.8" x2="393.2" y2="581.3" stroke="#555" stroke-width="1"/>
<line x1="436.3" y1="576.8" x2="436.3" y2="579.3" stroke="#555" stroke-width="1"/>
<line x1="479.4" y1="576.8" x2="479.4" y2="581.3" stroke="#555" stroke-width="1"/>
<text x="48.4" y="599.3" text-anchor="middle" font-family="Liberation Sans" font-weight="bold" font-style="italic" font-size="15" fill="#1a1a1a">38.6</text>
<text x="134.6" y="599.3" text-anchor="middle" font-family="Liberation Sans" font-weight="bold" font-style="italic" font-size="15" fill="#1a1a1a">38.8</text>
<text x="220.8" y="599.3" text-anchor="middle" font-family="Liberation Sans" font-weight="bold" font-style="italic" font-size="15" fill="#1a1a1a">39</text>
<text x="307.0" y="599.3" text-anchor="middle" font-family="Liberation Sans" font-weight="bold" font-style="italic" font-size="15" fill="#1a1a1a">39.2</text>
<text x="393.2" y="599.3" text-anchor="middle" font-family="Liberation Sans" font-weight="bold" font-style="italic" font-size="15" fill="#1a1a1a">39.4</text>
<text x="479.4" y="599.3" text-anchor="middle" font-family="Liberation Sans" font-weight="bold" font-style="italic" font-size="15" fill="#1a1a1a">39.6</text>
<text x="260" y="625.8" font-family="Liberation Sans" font-weight="bold" font-style="italic" font-size="16.2" fill="#1a1a1a" textLength="63" lengthAdjust="spacingAndGlyphs">Salinity</text>
<text transform="translate(15.0,438.5) rotate(-90)" font-family="Liberation Sans" font-weight="bold" font-style="italic" font-size="17.6" fill="#1a1a1a" textLength="261" lengthAdjust="spacingAndGlyphs">Potential Temperature θ [degC]</text>
<text x="87.3" y="24.8" font-family="Liberation Sans" font-weight="bold" font-size="30" fill="#000">A</text>
<text x="601.3" y="24.5" font-family="Liberation Sans" font-weight="bold" font-size="30" fill="#000">B</text>
<rect x="546" y="40.5" width="748.5" height="536" rx="1.5" fill="#fff" stroke="#e4e4e4" stroke-width="1.4"/>
<text x="625.1" y="70.1" font-family="Liberation Sans" font-weight="bold" font-size="19.5" fill="#1a1a1a" textLength="101.2" lengthAdjust="spacingAndGlyphs">Chronological</text>
<text x="730.6" y="70.1" font-family="Liberation Sans" font-weight="bold" font-size="19.5" fill="#1a1a1a" textLength="69.2" lengthAdjust="spacingAndGlyphs">evolution</text>
<text x="803.7" y="70.1" font-family="Liberation Sans" font-weight="bold" font-size="19.5" fill="#1a1a1a" textLength="16.3" lengthAdjust="spacingAndGlyphs">of</text>
<text x="824.2" y="70.1" font-family="Liberation Sans" font-weight="bold" font-size="19.5" fill="#1a1a1a" textLength="24.5" lengthAdjust="spacingAndGlyphs">the</text>
<text x="853.3" y="70.1" font-family="Liberation Sans" font-weight="bold" font-size="19.5" fill="#1a1a1a" textLength="34.2" lengthAdjust="spacingAndGlyphs">LSW,</text>
<text x="892.1" y="70.1" font-family="Liberation Sans" font-weight="bold" font-size="19.5" fill="#1a1a1a" textLength="27.7" lengthAdjust="spacingAndGlyphs">LIW</text>
<text x="924.5" y="70.1" font-family="Liberation Sans" font-weight="bold" font-size="19.5" fill="#1a1a1a" textLength="27.6" lengthAdjust="spacingAndGlyphs">and</text>
<text x="957.6" y="70.1" font-family="Liberation Sans" font-weight="bold" font-size="19.5" fill="#1a1a1a" textLength="40.6" lengthAdjust="spacingAndGlyphs">MAW</text>
<text x="1002.9" y="70.1" font-family="Liberation Sans" font-weight="bold" font-size="19.5" fill="#1a1a1a" textLength="47.7" lengthAdjust="spacingAndGlyphs">during</text>
<text x="1054.8" y="70.1" font-family="Liberation Sans" font-weight="bold" font-size="19.5" fill="#1a1a1a" textLength="60.8" lengthAdjust="spacingAndGlyphs">summer</text>
<text x="1120.7" y="70.1" font-family="Liberation Sans" font-weight="bold" font-size="19.5" fill="#1a1a1a" textLength="39.9" lengthAdjust="spacingAndGlyphs">CYBO</text>
<text x="1164.8" y="70.1" font-family="Liberation Sans" font-weight="bold" font-size="19.5" fill="#1a1a1a" textLength="50.4" lengthAdjust="spacingAndGlyphs">cruises</text>
<line x1="591.1" y1="94" x2="591.1" y2="508" stroke="#f0f0f0" stroke-width="1"/>
<line x1="667.7" y1="94" x2="667.7" y2="508" stroke="#f0f0f0" stroke-width="1"/>
<line x1="744.3" y1="94" x2="744.3" y2="508" stroke="#f0f0f0" stroke-width="1"/>
<line x1="820.9" y1="94" x2="820.9" y2="508" stroke="#f0f0f0" stroke-width="1"/>
<line x1="897.5" y1="94" x2="897.5" y2="508" stroke="#f0f0f0" stroke-width="1"/>
<line x1="974.1" y1="94" x2="974.1" y2="508" stroke="#f0f0f0" stroke-width="1"/>
<line x1="1050.7" y1="94" x2="1050.7" y2="508" stroke="#f0f0f0" stroke-width="1"/>
<line x1="1127.3" y1="94" x2="1127.3" y2="508" stroke="#f0f0f0" stroke-width="1"/>
<line x1="1203.9" y1="94" x2="1203.9" y2="508" stroke="#f0f0f0" stroke-width="1"/>
<line x1="1280.5" y1="94" x2="1280.5" y2="508" stroke="#f0f0f0" stroke-width="1"/>
<line x1="591.1" y1="107.9" x2="1280.5" y2="107.9" stroke="#e6e6e6" stroke-width="1"/>
<text x="548.5" y="113.4" font-family="Liberation Sans" font-size="16.8" fill="#474747" stroke="#474747" stroke-width="0.3" textLength="30" lengthAdjust="spacingAndGlyphs">39.85</text>
<line x1="591.1" y1="165.0" x2="1280.5" y2="165.0" stroke="#e6e6e6" stroke-width="1"/>
<text x="548.5" y="170.5" font-family="Liberation Sans" font-size="16.8" fill="#474747" stroke="#474747" stroke-width="0.3" textLength="30" lengthAdjust="spacingAndGlyphs">39.65</text>
<line x1="591.1" y1="222.1" x2="1280.5" y2="222.1" stroke="#e6e6e6" stroke-width="1"/>
<text x="548.5" y="227.6" font-family="Liberation Sans" font-size="16.8" fill="#474747" stroke="#474747" stroke-width="0.3" textLength="30" lengthAdjust="spacingAndGlyphs">39.45</text>
<line x1="591.1" y1="279.2" x2="1280.5" y2="279.2" stroke="#e6e6e6" stroke-width="1"/>
<text x="548.5" y="284.7" font-family="Liberation Sans" font-size="16.8" fill="#474747" stroke="#474747" stroke-width="0.3" textLength="30" lengthAdjust="spacingAndGlyphs">39.25</text>
<line x1="591.1" y1="336.3" x2="1280.5" y2="336.3" stroke="#e6e6e6" stroke-width="1"/>
<text x="548.5" y="341.8" font-family="Liberation Sans" font-size="16.8" fill="#474747" stroke="#474747" stroke-width="0.3" textLength="30" lengthAdjust="spacingAndGlyphs">39.05</text>
<line x1="591.1" y1="393.4" x2="1280.5" y2="393.4" stroke="#e6e6e6" stroke-width="1"/>
<text x="548.5" y="398.9" font-family="Liberation Sans" font-size="16.8" fill="#474747" stroke="#474747" stroke-width="0.3" textLength="30" lengthAdjust="spacingAndGlyphs">38.85</text>
<line x1="591.1" y1="450.5" x2="1280.5" y2="450.5" stroke="#e6e6e6" stroke-width="1"/>
<text x="548.5" y="456.0" font-family="Liberation Sans" font-size="16.8" fill="#474747" stroke="#474747" stroke-width="0.3" textLength="30" lengthAdjust="spacingAndGlyphs">38.65</text>
<line x1="591.1" y1="507.6" x2="1280.5" y2="507.6" stroke="#e6e6e6" stroke-width="1"/>
<text x="548.5" y="513.1" font-family="Liberation Sans" font-size="16.8" fill="#474747" stroke="#474747" stroke-width="0.3" textLength="30" lengthAdjust="spacingAndGlyphs">38.45</text>
<text x="606.4" y="536.5" font-family="Liberation Sans" font-weight="bold" font-size="14.6" fill="#505050" textLength="46" lengthAdjust="spacingAndGlyphs">1998/07</text>
<text x="683.0" y="536.5" font-family="Liberation Sans" font-weight="bold" font-size="14.6" fill="#505050" textLength="46" lengthAdjust="spacingAndGlyphs">2000/08</text>
<text x="759.6" y="536.5" font-family="Liberation Sans" font-weight="bold" font-size="14.6" fill="#505050" textLength="46" lengthAdjust="spacingAndGlyphs">2001/08</text>
<text x="836.2" y="536.5" font-family="Liberation Sans" font-weight="bold" font-size="14.6" fill="#505050" textLength="46" lengthAdjust="spacingAndGlyphs">2002/08</text>
<text x="912.8" y="536.5" font-family="Liberation Sans" font-weight="bold" font-size="14.6" fill="#505050" textLength="46" lengthAdjust="spacingAndGlyphs">2003/08</text>
<text x="989.4" y="536.5" font-family="Liberation Sans" font-weight="bold" font-size="14.6" fill="#505050" textLength="46" lengthAdjust="spacingAndGlyphs">2005/09</text>
<text x="1066.0" y="536.5" font-family="Liberation Sans" font-weight="bold" font-size="14.6" fill="#505050" textLength="46" lengthAdjust="spacingAndGlyphs">2007/07</text>
<text x="1142.6" y="536.5" font-family="Liberation Sans" font-weight="bold" font-size="14.6" fill="#505050" textLength="46" lengthAdjust="spacingAndGlyphs">2008/08</text>
<text x="1219.2" y="536.5" font-family="Liberation Sans" font-weight="bold" font-size="14.6" fill="#505050" textLength="46" lengthAdjust="spacingAndGlyphs">2010/08</text>
<polyline points="629.4,222.1 706.0,193.6 782.6,162.1 859.2,167.9 935.8,179.3 1012.4,173.6 1089.0,153.6 1165.6,125.0 1242.2,125.0" fill="none" stroke="#4472c4" stroke-width="2.3" stroke-linejoin="round"/>
<polygon points="626.4,222.1 629.4,219.1 632.4,222.1 629.4,225.1" fill="#4472c4"/>
<polygon points="703.0,193.6 706.0,190.6 709.0,193.6 706.0,196.6" fill="#4472c4"/>
<polygon points="779.6,162.1 782.6,159.1 785.6,162.1 782.6,165.1" fill="#4472c4"/>
<polygon points="856.2,167.9 859.2,164.9 862.2,167.9 859.2,170.9" fill="#4472c4"/>
<polygon points="932.8,179.3 935.8,176.3 938.8,179.3 935.8,182.3" fill="#4472c4"/>
<polygon points="1009.4,173.6 1012.4,170.6 1015.4,173.6 1012.4,176.6" fill="#4472c4"/>
<polygon points="1086.0,153.6 1089.0,150.6 1092.0,153.6 1089.0,156.6" fill="#4472c4"/>
<polygon points="1162.6,125.0 1165.6,122.0 1168.6,125.0 1165.6,128.0" fill="#4472c4"/>
<polygon points="1239.2,125.0 1242.2,122.0 1245.2,125.0 1242.2,128.0" fill="#4472c4"/>
<polyline points="629.4,250.7 706.0,222.1 782.6,187.8 859.2,196.4 935.8,196.4 1012.4,190.7 1089.0,179.3 1165.6,159.3 1242.2,150.7" fill="none" stroke="#ed7d31" stroke-width="2.3" stroke-linejoin="round"/>
<polygon points="626.4,250.7 629.4,247.7 632.4,250.7 629.4,253.7" fill="#ed7d31"/>
<polygon points="703.0,222.1 706.0,219.1 709.0,222.1 706.0,225.1" fill="#ed7d31"/>
<polygon points="779.6,187.8 782.6,184.8 785.6,187.8 782.6,190.8" fill="#ed7d31"/>
<polygon points="856.2,196.4 859.2,193.4 862.2,196.4 859.2,199.4" fill="#ed7d31"/>
<polygon points="932.8,196.4 935.8,193.4 938.8,196.4 935.8,199.4" fill="#ed7d31"/>
<polygon points="1009.4,190.7 1012.4,187.7 1015.4,190.7 1012.4,193.7" fill="#ed7d31"/>
<polygon points="1086.0,179.3 1089.0,176.3 1092.0,179.3 1089.0,182.3" fill="#ed7d31"/>
<polygon points="1162.6,159.3 1165.6,156.3 1168.6,159.3 1165.6,162.3" fill="#ed7d31"/>
<polygon points="1239.2,150.7 1242.2,147.7 1245.2,150.7 1242.2,153.7" fill="#ed7d31"/>
<polyline points="629.4,479.1 706.0,439.1 782.6,407.7 859.2,422.0 935.8,461.9 1012.4,444.8 1089.0,402.0 1165.6,436.2 1242.2,450.5" fill="none" stroke="#a5a5a5" stroke-width="2.3" stroke-linejoin="round"/>
<polygon points="626.4,479.1 629.4,476.1 632.4,479.1 629.4,482.1" fill="#a5a5a5"/>
<polygon points="703.0,439.1 706.0,436.1 709.0,439.1 706.0,442.1" fill="#a5a5a5"/>
<polygon points="779.6,407.7 782.6,404.7 785.6,407.7 782.6,410.7" fill="#a5a5a5"/>
<polygon points="856.2,422.0 859.2,419.0 862.2,422.0 859.2,425.0" fill="#a5a5a5"/>
<polygon points="932.8,461.9 935.8,458.9 938.8,461.9 935.8,464.9" fill="#a5a5a5"/>
<polygon points="1009.4,444.8 1012.4,441.8 1015.4,444.8 1012.4,447.8" fill="#a5a5a5"/>
<polygon points="1086.0,402.0 1089.0,399.0 1092.0,402.0 1089.0,405.0" fill="#a5a5a5"/>
<polygon points="1162.6,436.2 1165.6,433.2 1168.6,436.2 1165.6,439.2" fill="#a5a5a5"/>
<polygon points="1239.2,450.5 1242.2,447.5 1245.2,450.5 1242.2,453.5" fill="#a5a5a5"/>
<polyline points="629.4,464.8 706.0,424.8 782.6,393.4 859.2,413.4 935.8,433.4 1012.4,419.1 1089.0,379.1 1165.6,399.1 1242.2,422.0" fill="none" stroke="#ffc000" stroke-width="2.3" stroke-linejoin="round"/>
<polygon points="626.4,464.8 629.4,461.8 632.4,464.8 629.4,467.8" fill="#ffc000"/>
<polygon points="703.0,424.8 706.0,421.8 709.0,424.8 706.0,427.8" fill="#ffc000"/>
<polygon points="779.6,393.4 782.6,390.4 785.6,393.4 782.6,396.4" fill="#ffc000"/>
<polygon points="856.2,413.4 859.2,410.4 862.2,413.4 859.2,416.4" fill="#ffc000"/>
<polygon points="932.8,433.4 935.8,430.4 938.8,433.4 935.8,436.4" fill="#ffc000"/>
<polygon points="1009.4,419.1 1012.4,416.1 1015.4,419.1 1012.4,422.1" fill="#ffc000"/>
<polygon points="1086.0,379.1 1089.0,376.1 1092.0,379.1 1089.0,382.1" fill="#ffc000"/>
<polygon points="1162.6,399.1 1165.6,396.1 1168.6,399.1 1165.6,402.1" fill="#ffc000"/>
<polygon points="1239.2,422.0 1242.2,419.0 1245.2,422.0 1242.2,425.0" fill="#ffc000"/>
<polyline points="629.4,299.2 706.0,322.0 782.6,310.6 859.2,316.3 935.8,316.3 1012.4,339.2 1089.0,236.4 1165.6,242.1 1242.2,250.7" fill="none" stroke="#5b9bd5" stroke-width="2.3" stroke-linejoin="round"/>
<polygon points="626.4,299.2 629.4,296.2 632.4,299.2 629.4,302.2" fill="#5b9bd5"/>
<polygon points="703.0,322.0 706.0,319.0 709.0,322.0 706.0,325.0" fill="#5b9bd5"/>
<polygon points="779.6,310.6 782.6,307.6 785.6,310.6 782.6,313.6" fill="#5b9bd5"/>
<polygon points="856.2,316.3 859.2,313.3 862.2,316.3 859.2,319.3" fill="#5b9bd5"/>
<polygon points="932.8,316.3 935.8,313.3 938.8,316.3 935.8,319.3" fill="#5b9bd5"/>
<polygon points="1009.4,339.2 1012.4,336.2 1015.4,339.2 1012.4,342.2" fill="#5b9bd5"/>
<polygon points="1086.0,236.4 1089.0,233.4 1092.0,236.4 1089.0,239.4" fill="#5b9bd5"/>
<polygon points="1162.6,242.1 1165.6,239.1 1168.6,242.1 1165.6,245.1" fill="#5b9bd5"/>
<polygon points="1239.2,250.7 1242.2,247.7 1245.2,250.7 1242.2,253.7" fill="#5b9bd5"/>
<polyline points="629.4,316.3 706.0,333.4 782.6,322.0 859.2,322.0 935.8,322.0 1012.4,344.9 1089.0,253.5 1165.6,250.7 1242.2,264.9" fill="none" stroke="#70ad47" stroke-width="2.3" stroke-linejoin="round"/>
<polygon points="626.4,316.3 629.4,313.3 632.4,316.3 629.4,319.3" fill="#70ad47"/>
<polygon points="703.0,333.4 706.0,330.4 709.0,333.4 706.0,336.4" fill="#70ad47"/>
<polygon points="779.6,322.0 782.6,319.0 785.6,322.0 782.6,325.0" fill="#70ad47"/>
<polygon points="856.2,322.0 859.2,319.0 862.2,322.0 859.2,325.0" fill="#70ad47"/>
<polygon points="932.8,322.0 935.8,319.0 938.8,322.0 935.8,325.0" fill="#70ad47"/>
<polygon points="1009.4,344.9 1012.4,341.9 1015.4,344.9 1012.4,347.9" fill="#70ad47"/>
<polygon points="1086.0,253.5 1089.0,250.5 1092.0,253.5 1089.0,256.5" fill="#70ad47"/>
<polygon points="1162.6,250.7 1165.6,247.7 1168.6,250.7 1165.6,253.7" fill="#70ad47"/>
<polygon points="1239.2,264.9 1242.2,261.9 1245.2,264.9 1242.2,267.9" fill="#70ad47"/>
<line x1="594.3" y1="556" x2="609.3" y2="556" stroke="#4472c4" stroke-width="2.4"/>
<circle cx="601.8" cy="556" r="2" fill="#4472c4"/>
<text x="610.5" y="561.6" font-family="Liberation Sans" font-size="16.5" fill="#595959" textLength="110.4" lengthAdjust="spacingAndGlyphs">LSW absolute max</text>
<line x1="731.5" y1="556" x2="746.5" y2="556" stroke="#ed7d31" stroke-width="2.4"/>
<circle cx="739.0" cy="556" r="2" fill="#ed7d31"/>
<text x="748.5" y="561.6" font-family="Liberation Sans" font-size="16.5" fill="#595959" textLength="54" lengthAdjust="spacingAndGlyphs">LSW max</text>
<line x1="813.6" y1="556" x2="828.6" y2="556" stroke="#a5a5a5" stroke-width="2.4"/>
<circle cx="821.1" cy="556" r="2" fill="#a5a5a5"/>
<text x="830.5" y="561.6" font-family="Liberation Sans" font-size="16.5" fill="#595959" textLength="116.1" lengthAdjust="spacingAndGlyphs">MAW absolute min</text>
<line x1="957" y1="556" x2="972" y2="556" stroke="#ffc000" stroke-width="2.4"/>
<circle cx="964.5" cy="556" r="2" fill="#ffc000"/>
<text x="974" y="561.6" font-family="Liberation Sans" font-size="16.5" fill="#595959" textLength="60" lengthAdjust="spacingAndGlyphs">MAW min</text>
<line x1="1045.6" y1="556" x2="1060.6" y2="556" stroke="#5b9bd5" stroke-width="2.4"/>
<circle cx="1053.1" cy="556" r="2" fill="#5b9bd5"/>
<text x="1061.6" y="561.6" font-family="Liberation Sans" font-size="16.5" fill="#595959" textLength="107.6" lengthAdjust="spacingAndGlyphs">LIW absolute max</text>
<line x1="1180.2" y1="556" x2="1195.2" y2="556" stroke="#70ad47" stroke-width="2.4"/>
<circle cx="1187.7" cy="556" r="2" fill="#70ad47"/>
<text x="1196.1" y="561.6" font-family="Liberation Sans" font-size="16.5" fill="#595959" textLength="52.1" lengthAdjust="spacingAndGlyphs">LIW max</text>
</svg>
</body></html>
